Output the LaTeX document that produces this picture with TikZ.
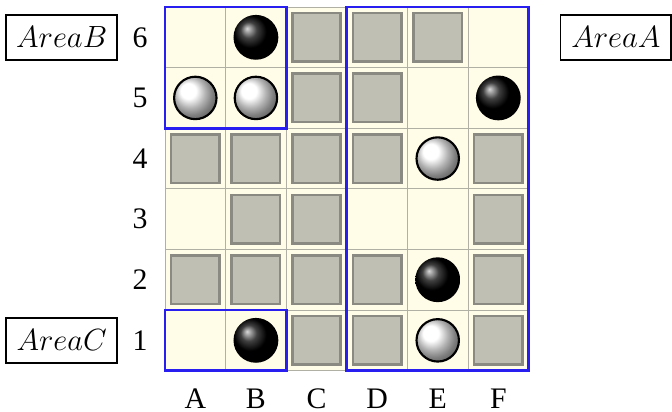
\documentclass[tikz,border=0pt]{standalone}
\usepackage{fontspec}
\newfontfamily\timesf{Liberation Serif}
\usepackage{tikz}
\definecolor{cream}{RGB}{255,252,232}
\definecolor{gline}{RGB}{176,176,164}
\definecolor{sqfill}{RGB}{192,191,180}
\definecolor{sqdraw}{RGB}{138,138,130}
\definecolor{areablue}{RGB}{40,30,240}
\begin{document}
\begin{tikzpicture}[
  areabox/.style={draw=black, line width=0.9pt, minimum width=52pt, minimum height=21pt, inner sep=0pt, font=\fontsize{14.4}{16}\selectfont},
  rowlab/.style={font=\timesf\fontsize{14}{16}\selectfont},
  collab/.style={font=\timesf\fontsize{14}{16}\selectfont},
  block/.style={fill=sqfill, draw=sqdraw, line width=1.2pt, minimum size=0.8cm, inner sep=0pt},
  blackstone/.style={circle, shade, ball color=black, minimum size=0.74cm, inner sep=0pt},
  whitestone/.style={circle, shade, ball color=white, draw=black, line width=1pt, minimum size=0.7cm, inner sep=0pt},
  region/.style={draw=areablue, line width=1.3pt},
]
\useasboundingbox (-2.723,-0.677) rectangle (8.366,6.116);
\fill[cream] (0,0) rectangle (6,6);
\draw[gline, line width=0.4pt] (0,0) grid (6,6);
% gray blocks
\foreach \c/\r in {3/6,4/6,5/6, 3/5,4/5, 1/4,2/4,3/4,4/4,6/4, 2/3,3/3,6/3, 1/2,2/2,3/2,4/2,6/2, 3/1,4/1,6/1}
  \node[block] (b-\c-\r) at (\c-0.5,\r-0.5) {};
% stones
\foreach \c/\r in {2/6,6/5,5/2,2/1}
  \node[blackstone] (k-\c-\r) at (\c-0.5,\r-0.5) {};
\foreach \c/\r in {1/5,2/5,5/4,5/1}
  \node[whitestone] (w-\c-\r) at (\c-0.5,\r-0.5) {};
% areas
\draw[region] (0,4) rectangle (2,6);
\draw[region] (0,0) rectangle (2,1);
\draw[region] (3,0) rectangle (6,6);
% labels
\node[areabox] (areaB) at (-1.705,5.5) {$AreaB$};
\node[areabox] (areaA) at (7.44,5.5) {$AreaA$};
\node[areabox] (areaC) at (-1.705,0.5) {$AreaC$};
\foreach \r in {1,...,6}
  \node[rowlab] (row\r) at (-0.41,\r-0.5) {\r};
\foreach \l [count=\i] in {A,B,C,D,E,F}
  \node[collab] (col\l) at (\i-0.5,-0.46) {\l};
\end{tikzpicture}
\end{document}
